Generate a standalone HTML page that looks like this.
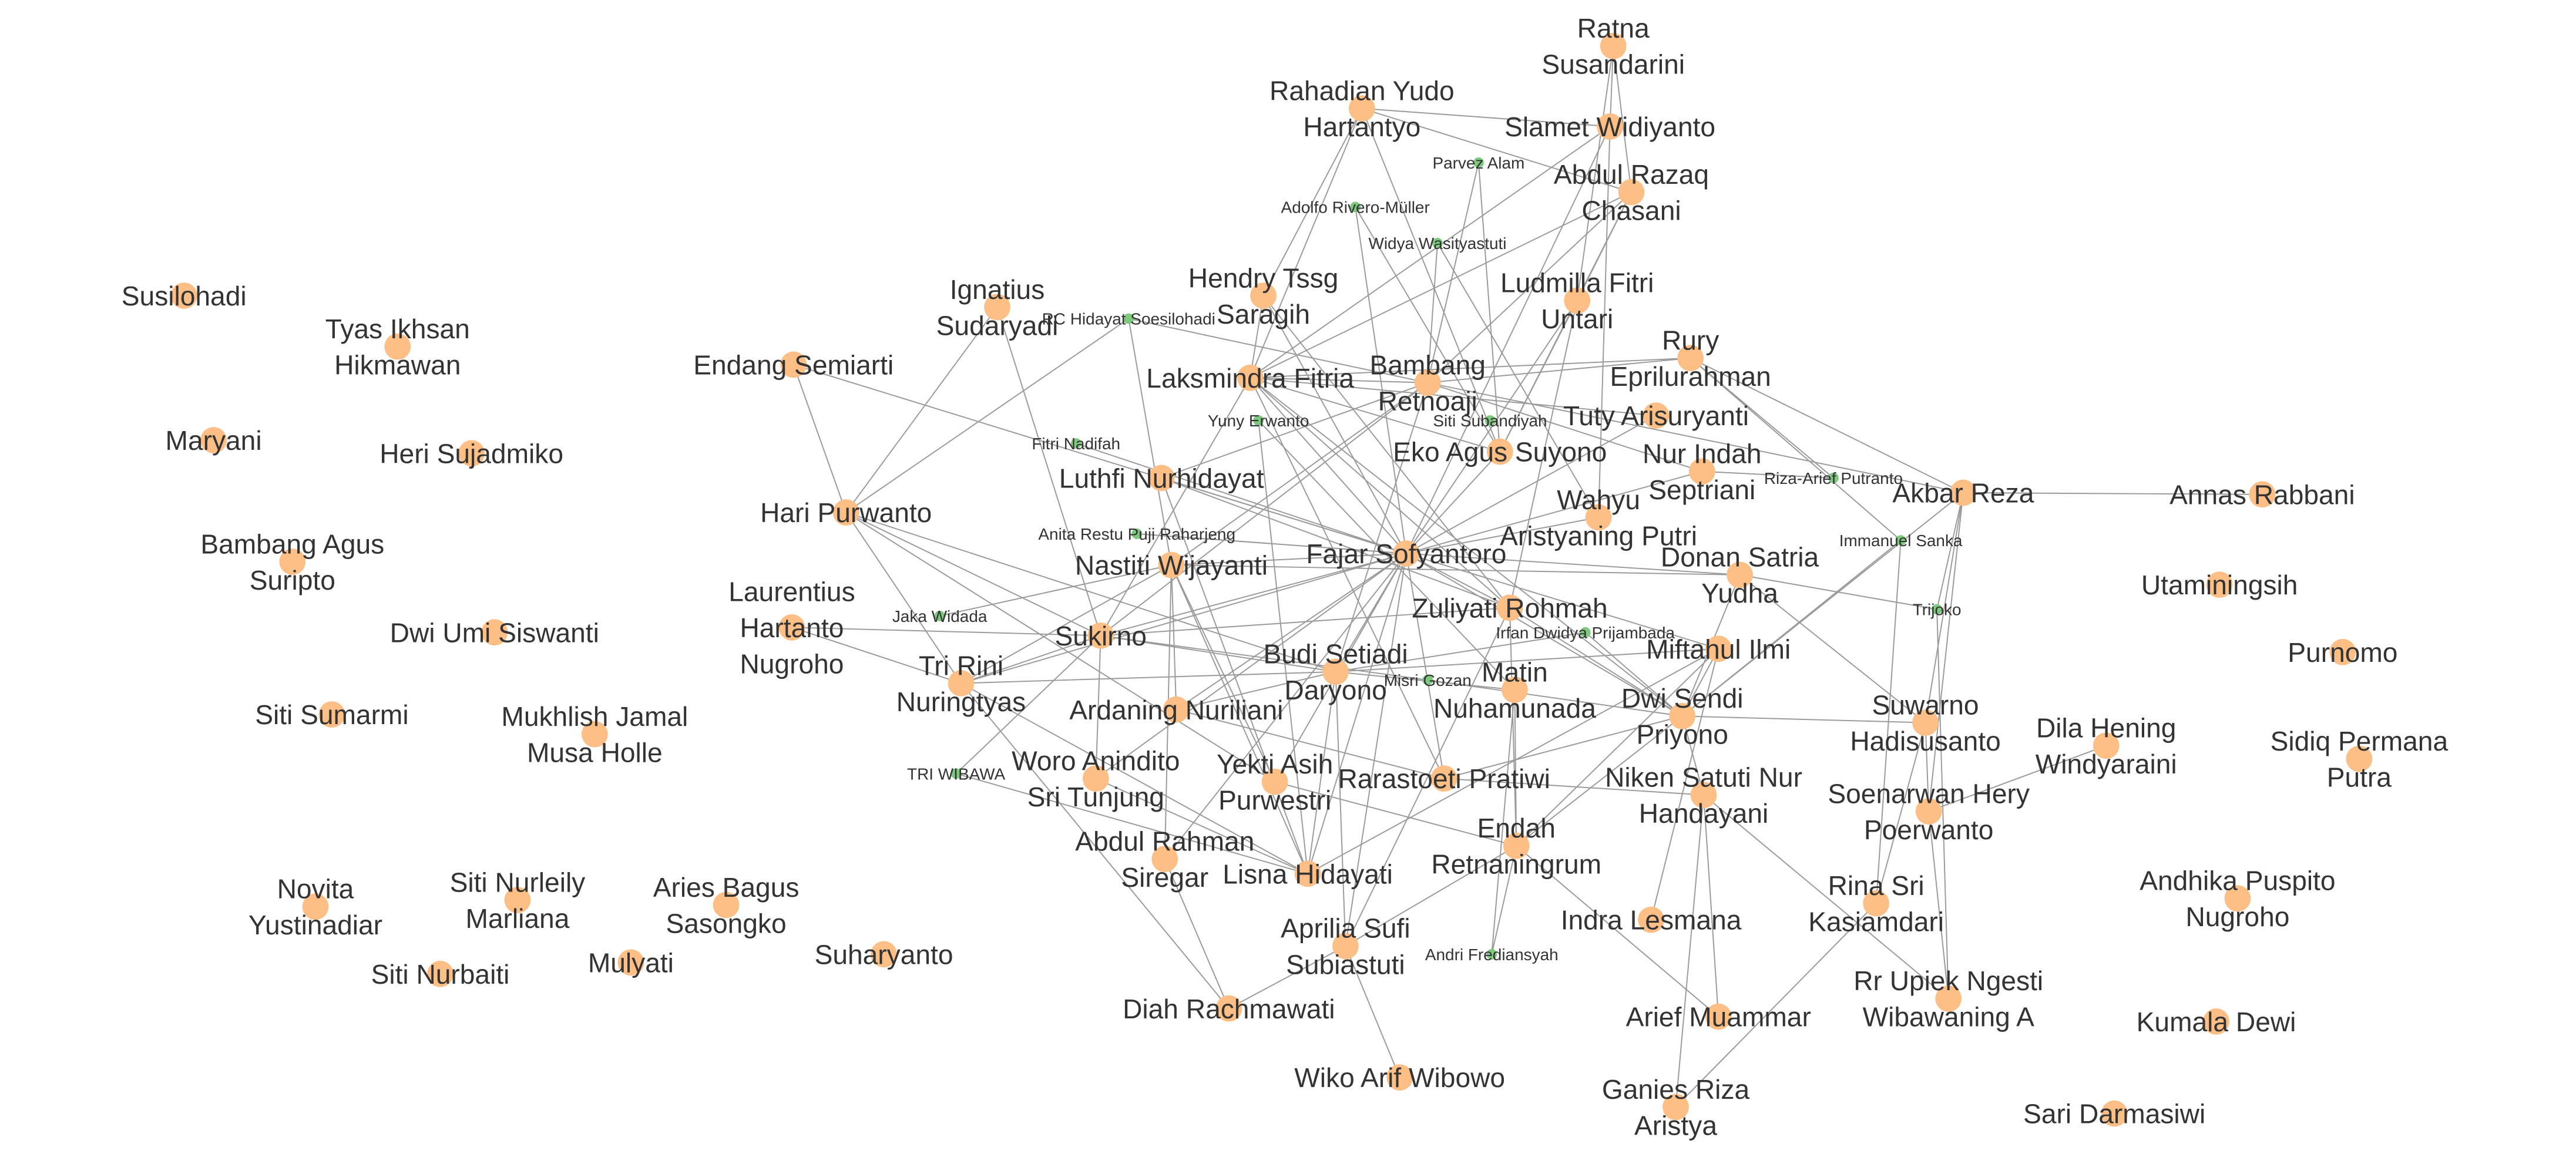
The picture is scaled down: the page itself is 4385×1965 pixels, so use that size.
<!DOCTYPE html>
<html><head><meta charset="utf-8"><style>
html,body{margin:0;padding:0;background:#fff;}
svg{display:block;}
text{font-family:"Liberation Sans",sans-serif;fill:#333;}
</style></head><body>
<svg id="net" width="4385" height="1965" viewBox="0 0 1568 702.6" xmlns="http://www.w3.org/2000/svg">
<g id="edges"></g>
<g id="nodes"></g>
</svg>
<script>
// node names (lines separated by |), kind: 1 = primary (orange), 0 = secondary (green)
const nodeNames = ["Susilohadi","Tyas Ikhsan|Hikmawan","Maryani","Heri Sujadmiko","Bambang Agus|Suripto","Dwi Umi Siswanti","Siti Sumarmi","Mukhlish Jamal|Musa Holle","Novita|Yustinadiar","Siti Nurleily|Marliana","Aries Bagus|Sasongko","Siti Nurbaiti","Mulyati","Suharyanto","Laurentius|Hartanto|Nugroho","Endang Semiarti","Ignatius|Sudaryadi","RC Hidayat Soesilohadi","Hari Purwanto","Fitri Nadifah","Jaka Widada","Tri Rini|Nuringtyas","TRI WIBAWA","Hendry Tssg|Saragih","Rahadian Yudo|Hartantyo","Laksmindra Fitria","Luthfi Nurhidayat","Anita Restu Puji Raharjeng","Nastiti Wijayanti","Sukirno","Yuny Erwanto","Adolfo Rivero-Müller","Parvez Alam","Widya Wasityastuti","Ratna|Susandarini","Slamet Widiyanto","Abdul Razaq|Chasani","Ludmilla Fitri|Untari","Bambang|Retnoaji","Siti Subandiyah","Eko Agus Suyono","Fajar Sofyantoro","Wahyu|Aristyaning Putri","Rury|Eprilurahman","Tuty Arisuryanti","Nur Indah|Septriani","Riza-Arief Putranto","Akbar Reza","Annas Rabbani","Immanuel Sanka","Donan Satria|Yudha","Utaminingsih","Trijoko","Zuliyati Rohmah","Irfan Dwidya Prijambada","Budi Setiadi|Daryono","Misri Gozan","Matin|Nuhamunada","Miftahul Ilmi","Dwi Sendi|Priyono","Ardaning Nuriliani","Purnomo","Suwarno|Hadisusanto","Dila Hening|Windyaraini","Sidiq Permana|Putra","Woro Anindito|Sri Tunjung","Yekti Asih|Purwestri","Rarastoeti Pratiwi","Niken Satuti Nur|Handayani","Soenarwan Hery|Poerwanto","Endah|Retnaningrum","Abdul Rahman|Siregar","Lisna Hidayati","Aprilia Sufi|Subiastuti","Andri Frediansyah","Indra Lesmana","Rina Sri|Kasiamdari","Andhika Puspito|Nugroho","Rr Upiek Ngesti|Wibawaning A","Diah Rachmawati","Arief Muammar","Kumala Dewi","Wiko Arif Wibowo","Ganies Riza|Aristya","Sari Darmasiwi"];
const nodeKind = [1,1,1,1,1,1,1,1,1,1,1,1,1,1,1,1,1,0,1,0,0,1,0,1,1,1,1,0,1,1,0,0,0,0,1,1,1,1,1,0,1,1,1,1,1,1,0,1,1,0,1,1,0,1,0,1,0,1,1,1,1,1,1,1,1,1,1,1,1,1,1,1,1,1,0,1,1,1,1,1,1,1,1,1,1];
// layout positions (graph layout output)
const nodeX = [112,242,130,287,178,301,202,362,192,315,442,268,384,538,482,483,607,687,515,655,572,585,582,769,829,761,707,692,713,670,766,825,900,875,982,980,993,960,869,907,913,856,973,1029,1008,1036,1116,1195,1377,1157,1059,1351,1179,919,965,813,869,922,1046,1024,716,1426,1172,1282,1436,667,776,879,1037,1174,923,709,796,819,908,1005,1142,1362,1186,748,1046,1349,852,1020,1287];
const nodeY = [180,211,268,276,342,385,435,447,552,548,551,593,586,581,382,222,187,194,312,270,375,416,471,180,66,230,291,325,344,387,256,126,99,148,28,77,117,183,233,256,275,337,315,218,253,287,291,300,301,329,350,356,371,370,385,409,414,420,395,436,432,397,440,454,462,474,476,474,484,494,515,523,532,576,581,560,550,547,608,614,619,622,656,674,678];
const edgeA = ["Rahadian","Rahadian","Rahadian","Rahadian","Rahadian","Ratna","Ratna","Ratna","Slamet","Slamet","Slamet","Abdul Razaq","Abdul Razaq","Abdul Razaq","Abdul Razaq","Parvez","Parvez","Adolfo","Adolfo","Widya","Widya","Ludmilla","Ludmilla","Ludmilla","Hendry","Hendry","Hendry","Ignatius","Ignatius","RC","RC","RC","Endang","Endang","Hari","Hari","Hari","Hari","Laksmindra","Laksmindra","Laksmindra","Laksmindra","Laksmindra","Laksmindra","Laksmindra","Laksmindra","Laksmindra","Bambang Retnoaji","Bambang Retnoaji","Bambang Retnoaji","Bambang Retnoaji","Bambang Retnoaji","Bambang Retnoaji","Bambang Retnoaji","Yuny","Yuny","Luthfi","Luthfi","Luthfi","Fajar","Fajar","Fajar","Fajar","Fajar","Fajar","Fajar","Fajar","Fajar","Fajar","Fajar","Fajar","Fajar","Fajar","Fajar","Fajar","Fajar","Fajar","Fajar","Akbar","Akbar","Akbar","Akbar","Akbar","Riza","Riza","Immanuel","Immanuel","Immanuel","Trijoko","Trijoko","Trijoko","Donan","Donan","Zuliyati","Zuliyati","Zuliyati","Zuliyati","Budi","Budi","Budi","Budi","Budi","Budi","Budi","Irfan","Irfan","Misri","Misri","Matin","Matin","Miftahul","Miftahul","Miftahul","Miftahul","Dwi Sendi","Dwi Sendi","Dwi Sendi","Suwarno","Suwarno","Soenarwan","Soenarwan","Niken","Niken","Niken","Niken","Niken","Rina","Rina","Endah","Endah","Endah","Laurentius","Laurentius","Tri Rini","Tri Rini","Jaka","TRI WIBAWA","TRI WIBAWA","Woro","Woro","Woro","Abdul Rahman","Abdul Rahman","Ardaning","Ardaning","Yekti","Yekti","Aprilia","Aprilia","Lisna","Lisna","Diah","Fitri","Anita"];
const edgeB = ["Slamet","Abdul Razaq","Laksmindra","Eko","Hendry","Slamet","Abdul Razaq","Ludmilla","Laksmindra","Fajar","Wahyu","Laksmindra","Ludmilla","Bambang Retnoaji","Eko","Bambang Retnoaji","Eko","Eko","Fajar","Bambang Retnoaji","Wahyu","Eko","Fajar","Zuliyati","Laksmindra","Zuliyati","Fajar","Hari","Sukirno","Hari","Bambang Retnoaji","Nastiti","Hari","Fajar","Sukirno","Tri Rini","Budi","Yekti","Bambang Retnoaji","Rury","Tuty","Eko","Fajar","Sukirno","Zuliyati","Dwi Sendi","Rarastoeti","Rury","Akbar","Luthfi","Sukirno","Nur Indah","Budi","Nastiti","Lisna","Matin","Fajar","Zuliyati","Lisna","Nastiti","Sukirno","Budi","Zuliyati","Wahyu","Eko","Tuty","Nur Indah","Donan","Miftahul","Dwi Sendi","Rarastoeti","Lisna","Aprilia","Yekti","Ardaning","Tri Rini","Anita","Abdul Rahman","Annas","Rury","Dwi Sendi","Suwarno","Soenarwan","Rury","Nur Indah","Rury","Dwi Sendi","Rina","Donan","Akbar","Rr Upiek","Nastiti","Dwi Sendi","Sukirno","Endah","Dwi Sendi","Aprilia","Sukirno","Tri Rini","Miftahul","Matin","Lisna","Aprilia","Ardaning","Budi","Dwi Sendi","Sukirno","Dwi Sendi","Endah","Andri","Lisna","Dwi Sendi","Indra","Endah","Suwarno","Endah","Rarastoeti","Soenarwan","Donan","Dila","Rr Upiek","Rarastoeti","Ganies","Arief","Rr Upiek","Dwi Sendi","Ganies","Suwarno","Arief","Aprilia","Andri","Sukirno","Tri Rini","Sukirno","Nastiti","Nastiti","Lisna","Sukirno","Sukirno","Lisna","Fajar","Nastiti","Diah","Nastiti","Rarastoeti","Endah","Nastiti","Diah","Wiko","Nastiti","Tri Rini","Tri Rini","Fajar","Fajar"];

const NS = "http://www.w3.org/2000/svg";
function key(n){return n.replace(/\|/g," ");}
function findNode(short){
  for(let i=0;i<nodeNames.length;i++){ if(key(nodeNames[i]).startsWith(short)) return i; }
  return -1;
}
function sx(i){return nodeX[i];}
function sy(i){return nodeY[i];}
const eg = document.getElementById("edges");
for(let k=0;k<edgeA.length;k++){
  const a=findNode(edgeA[k]), b=findNode(edgeB[k]);
  if(a<0||b<0) continue;
  const l=document.createElementNS(NS,"line");
  l.setAttribute("x1",sx(a));l.setAttribute("y1",sy(a));
  l.setAttribute("x2",sx(b));l.setAttribute("y2",sy(b));
  l.setAttribute("stroke","#9a9a9a");l.setAttribute("stroke-width","0.7");
  
  
  eg.appendChild(l);
}
const ng=document.getElementById("nodes");
for(let i=0;i<nodeNames.length;i++){
  const big=nodeKind[i]===1;
  const c=document.createElementNS(NS,"circle");
  c.setAttribute("cx",sx(i));c.setAttribute("cy",sy(i));
  c.setAttribute("r",big?8:3.2);
  c.setAttribute("fill",big?"#fdbf85":"#7fc97f");
  
  
  ng.appendChild(c);
}
for(let i=0;i<nodeNames.length;i++){
  const big=nodeKind[i]===1;
  const lines=nodeNames[i].split("|");
  const fs=big?16.5:10;
  const lh=big?22:12;
  const t=document.createElementNS(NS,"text");
  t.setAttribute("text-anchor","middle");
  t.setAttribute("font-size",fs);
  
  
  const y0=sy(i)-(lines.length-1)*lh/2+fs*0.36;
  lines.forEach((ln,j)=>{
    const ts=document.createElementNS(NS,"tspan");
    ts.setAttribute("x",sx(i));
    ts.setAttribute("y",y0+j*lh);
    ts.textContent=ln;
    t.appendChild(ts);
  });
  ng.appendChild(t);
}
</script>
</body></html>
